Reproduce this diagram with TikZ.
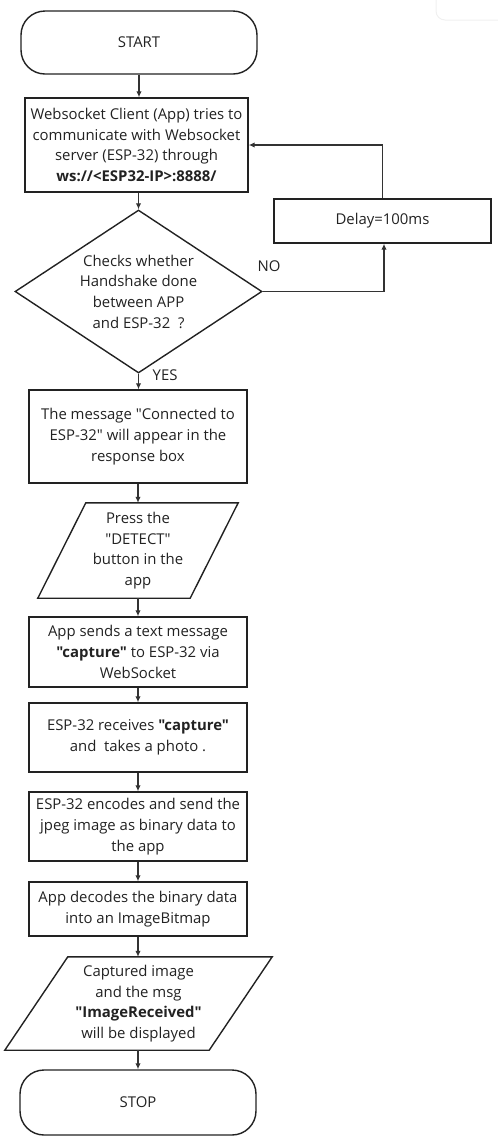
\documentclass[tikz,border=0pt]{standalone}
\usepackage{fontspec}
\setmainfont{Open Sans}[Ligatures=TeXOff]
\usetikzlibrary{positioning,calc,arrows.meta,shapes.geometric}

\definecolor{inkgray}{HTML}{222222}
\definecolor{flowgray}{HTML}{333333}

\tikzset{
    boxline/.style={draw=inkgray, line width=1.4pt},
    process/.style={boxline, align=center, inner sep=2pt, text=inkgray},
    terminal/.style={process, rounded corners=24pt, minimum width=236pt},
    decision/.style={boxline, diamond, aspect=1.5, align=center, inner sep=-4pt,
        text=inkgray, minimum width=247pt, minimum height=163pt},
    iobox/.style={align=center, inner sep=0pt, text=inkgray},
    flow/.style={draw=flowgray, line width=1.2pt, -{Latex[length=6pt,width=5.5pt]}},
    flowlabel/.style={text=inkgray, inner sep=0pt}
}

\begin{document}
\begin{tikzpicture}[x=1pt, y=-1pt, font=\fontsize{14.9}{20.7}\selectfont]
    \useasboundingbox (0,0) rectangle (498,1144);

    % faint corner of a window
    \draw[gray!12, line width=1pt, rounded corners=9pt] (436,-12) rectangle (520,20);

    % main column
    \node (start) [terminal, minimum height=63pt] at (139,42.5) {START};
    \node (client) [process, minimum width=223pt, minimum height=94pt] at (136.5,145)
        {Websocket Client (App) tries to\\
         communicate with Websocket\\
         server (ESP-32) through\\
         \textbf{ws://<ESP32-IP>:8888/}};
    \node (check) [decision] at (138.5,291.5)
        {Checks whether\\ Handshake done\\ between APP\\ and ESP-32~~?};
    \node (delay) [process, minimum width=217pt, minimum height=44pt] at (382.5,221)
        {Delay=100ms};
    \node (connected) [process, minimum width=218pt, minimum height=93pt] at (138,436.5)
        {The message "Connected to\\ ESP-32" will appear in the\\ response box};

    \node (press) [iobox, minimum width=200pt, minimum height=95pt] at (138,550.5)
        {Press the\\ "DETECT"\\ button in the\\ app};
    \draw[boxline]
        ($(press.north west)+(48,0)$)
        -- (press.north east)
        -- ($(press.south east)+(-48,0)$)
        -- (press.south west)
        -- cycle;

    \node (send) [process, minimum width=218pt, minimum height=70pt] at (138,652)
        {App sends a text message\\ \textbf{"capture"} to ESP-32 via\\ WebSocket};
    \node (receive) [process, minimum width=218pt, minimum height=69pt] at (138,737.5)
        {ESP-32 receives \textbf{"capture"}\\ and~ takes a photo .};
    \node (encode) [process, minimum width=218pt, minimum height=69pt] at (138,826.5)
        {ESP-32 encodes and send the\\ jpeg image as binary data to\\ the app};
    \node (decode) [process, minimum width=218pt, minimum height=54pt] at (138,909)
        {App decodes the binary data\\ into an ImageBitmap};

    \node (show) [iobox, minimum width=267pt, minimum height=93pt] at (138.5,1003.5)
        {Captured image\\ and the msg\\ \textbf{"ImageReceived"}\\ will be displayed};
    \draw[boxline]
        ($(show.north west)+(63,0)$)
        -- (show.north east)
        -- ($(show.south east)+(-63,0)$)
        -- (show.south west)
        -- cycle;

    \node (stop) [terminal, minimum height=65pt] at (138,1102.5) {STOP};

    % labels
    \node (yes) [flowlabel, anchor=west] at ($(check.south)+(14,1)$) {YES};
    \node (no) [flowlabel] at (269,266) {NO};

    % connectors
    \draw[flow] (start.south) -- (client.north -| start.south);
    \draw[flow] (client.south -| check.north) -- (check.north);
    \draw[flow] (check.south) -- (connected.north -| check.south);
    \draw[flow] (connected.south) -- (press.north);
    \draw[flow] (press.south) -- (send.north);
    \draw[flow] (send.south) -- (receive.north);
    \draw[flow] (receive.south) -- (encode.north);
    \draw[flow] (encode.south) -- (decode.north);
    \draw[flow] (decode.south) -- (show.north -| decode.south);
    \draw[flow] (show.south -| stop.north) -- (stop.north);

    % handshake retry loop
    \draw[flow] (check.east) -| ($(delay.south)+(1.5,0)$);
    \draw[flow] (delay.north) |- (client.east);
\end{tikzpicture}
\end{document}
